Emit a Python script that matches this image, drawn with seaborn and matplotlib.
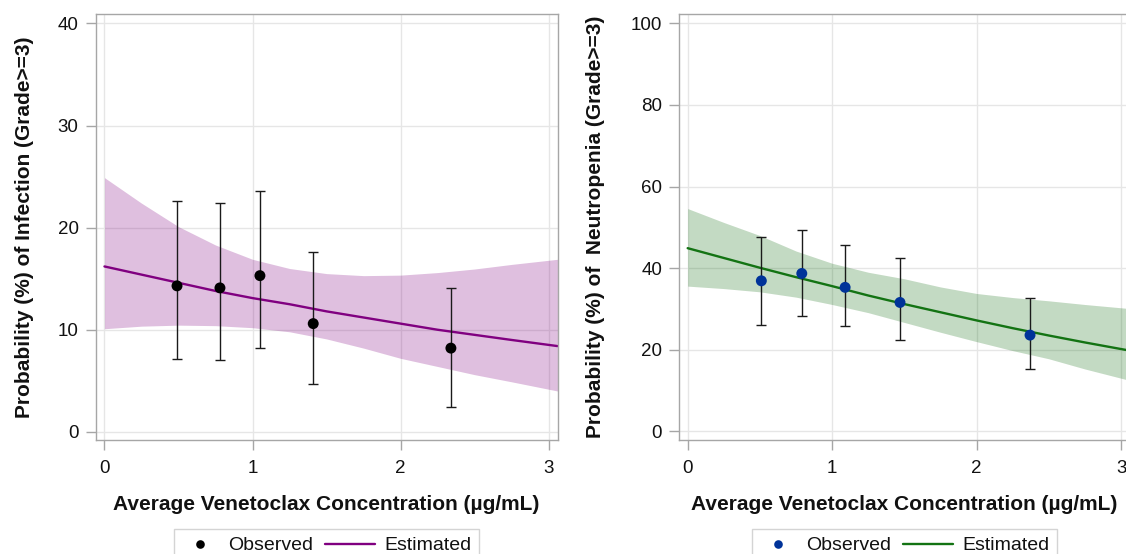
import numpy as np
import matplotlib
matplotlib.use("Agg")
import matplotlib.pyplot as plt
import seaborn as sns
from matplotlib.lines import Line2D
from matplotlib.legend_handler import HandlerLine2D

# Model curve grid (µg/mL)
curve_conc = [0.0, 0.25, 0.5, 0.75, 1.0, 1.25, 1.5, 1.75, 2.0, 2.25, 2.5, 2.75, 3.06]

# Infection (Grade>=3): estimated probability and 95% band
inf_est = [16.2, 15.4, 14.6, 13.8, 13.1, 12.5, 11.8, 11.2, 10.6, 10.0, 9.5, 9.0, 8.4]
inf_band_lo = [10.1, 10.35, 10.45, 10.4, 10.2, 9.8, 9.1, 8.2, 7.2, 6.4, 5.6, 4.9, 4.0]
inf_band_hi = [24.9, 22.4, 20.1, 18.3, 16.9, 16.0, 15.5, 15.3, 15.35, 15.6, 15.95, 16.4, 16.9]

# Infection: observed by concentration bin
inf_conc = [0.49, 0.78, 1.05, 1.41, 2.34]
inf_obs = [14.3, 14.1, 15.3, 10.6, 8.2]
inf_lo = [7.1, 7.0, 8.2, 4.7, 2.4]
inf_hi = [22.6, 22.4, 23.6, 17.6, 14.1]

# Neutropenia (Grade>=3): estimated probability and 95% band
neu_est = [44.9, 42.5, 40.1, 37.8, 35.6, 33.3, 31.2, 29.2, 27.2, 25.3, 23.5, 21.8, 19.8]
neu_band_lo = [35.6, 35.0, 34.2, 32.9, 31.1, 29.1, 26.7, 24.3, 22.0, 19.8, 17.8, 15.3, 12.5]
neu_band_hi = [54.6, 51.2, 48.0, 44.2, 41.2, 39.0, 37.4, 35.4, 33.8, 32.8, 32.0, 31.1, 30.1]

# Neutropenia: observed by concentration bin
neu_conc = [0.51, 0.79, 1.09, 1.47, 2.37]
neu_obs = [36.9, 38.7, 35.3, 31.6, 23.6]
neu_lo = [26.0, 28.3, 25.8, 22.4, 15.3]
neu_hi = [47.7, 49.3, 45.7, 42.4, 32.8]

x_ticks = [0, 1, 2, 3]
inf_yticks = [0, 10, 20, 30, 40]
neu_yticks = [0, 20, 40, 60, 80, 100]

x_label = "Average Venetoclax Concentration (µg/mL)"
inf_ylabel = "Probability (%) of Infection (Grade>=3)"
neu_ylabel = "Probability (%) of  Neutropenia (Grade>=3)"

sns.set_style("white")
plt.rcParams["font.family"] = ["Liberation Sans", "DejaVu Sans"]

FIG_W, FIG_H = 1126, 554
fig = plt.figure(figsize=(FIG_W / 100, FIG_H / 100), dpi=100)


class DotHandler(HandlerLine2D):
    """Places the legend marker near the right end of the handle box."""
    def get_xdata(self, legend, xdescent, ydescent, width, height, fontsize):
        xdata = np.array([-xdescent, -xdescent + width])
        return xdata, np.array([-xdescent + width - 4.1])


class LongLineHandler(HandlerLine2D):
    """Draws the legend line a little longer than the handle box."""
    def get_xdata(self, legend, xdescent, ydescent, width, height, fontsize):
        xdata = np.array([-xdescent - 9.4, -xdescent + width])
        return xdata, np.array([-xdescent + width / 2])


def draw_panel(ax, est, band_lo, band_hi, conc, obs, lo, hi,
               line_color, band_color, band_alpha, dot_color,
               ylim, yticks, ylabel, ylabel_x):
    ax_h_px = ax.get_position().height * FIG_H

    ax.set_axisbelow(True)
    ax.grid(True, color="#e6e6e6", lw=1)

    ax.fill_between(curve_conc, band_lo, band_hi, color=band_color,
                    alpha=band_alpha, lw=0, zorder=1)
    sns.lineplot(x=curve_conc, y=est, ax=ax, color=line_color, lw=1.7,
                 estimator=None, sort=False, zorder=2)

    obs_a = np.array(obs)
    yerr = [obs_a - np.array(lo), np.array(hi) - obs_a]
    ax.errorbar(conc, obs, yerr=yerr, fmt="none", ecolor="#1a1a1a",
                elinewidth=1, capsize=3.6, capthick=1, zorder=3)
    sns.scatterplot(x=conc, y=obs, ax=ax, color=dot_color, s=62,
                    edgecolor="none", linewidth=0, zorder=4, legend=False)

    ax.set_xlim(-0.06, 3.06)
    ax.set_ylim(*ylim)
    ax.set_xticks(x_ticks)
    ax.set_yticks(yticks)

    for sp in ax.spines.values():
        sp.set_visible(True)
        sp.set_color("#a6a6a6")
        sp.set_linewidth(1)

    ax.tick_params(axis="both", direction="out", length=7.2, width=1,
                   color="#a6a6a6", labelsize=13.5, labelcolor="#111111",
                   left=True, bottom=True, top=False, right=False)
    ax.tick_params(axis="x", pad=7.5)
    ax.tick_params(axis="y", pad=5)

    ax.set_xlabel(x_label, fontsize=15, fontweight="bold", color="#111111")
    ax.xaxis.set_label_coords(0.5, -65 / ax_h_px)
    ax.xaxis.label.set_va("center")

    ax.set_ylabel(ylabel, fontsize=15, fontweight="bold", color="#111111")
    ax.yaxis.set_label_coords(ylabel_x, 0.5)
    ax.yaxis.label.set_va("center")
    ax.yaxis.label.set_ha("center")

    obs_handle = Line2D([], [], ls="none", marker="o", markersize=6.2,
                        markerfacecolor=dot_color, markeredgecolor="none",
                        color=dot_color)
    est_handle = Line2D([], [], color=line_color, lw=1.7)
    leg = ax.legend([obs_handle, est_handle], ["Observed", "Estimated"],
                    handler_map={obs_handle: DotHandler(),
                                 est_handle: LongLineHandler()},
                    loc="upper center", bbox_to_anchor=(0.5, -89 / ax_h_px),
                    borderaxespad=0, ncol=2, fontsize=14, frameon=True,
                    fancybox=False, framealpha=1, edgecolor="#d4d4d4",
                    borderpad=0.4, handlelength=1.9, handletextpad=0.48,
                    columnspacing=1.27)
    leg.get_frame().set_linewidth(1)
    for t in leg.get_texts():
        t.set_color("#111111")


ax1 = fig.add_axes([95.6 / FIG_W, 114 / FIG_H, 461.9 / FIG_W, 425.7 / FIG_H])
ax2 = fig.add_axes([679 / FIG_W, 114 / FIG_H, 450.7 / FIG_W, 425.7 / FIG_H])

draw_panel(ax1, inf_est, inf_band_lo, inf_band_hi,
           inf_conc, inf_obs, inf_lo, inf_hi,
           line_color="#800080", band_color="#800080", band_alpha=0.25,
           dot_color="#000000", ylim=(-0.8, 40.9), yticks=inf_yticks,
           ylabel=inf_ylabel, ylabel_x=(24.5 - 95.6) / 461.9)

draw_panel(ax2, neu_est, neu_band_lo, neu_band_hi,
           neu_conc, neu_obs, neu_lo, neu_hi,
           line_color="#137313", band_color="#006400", band_alpha=0.235,
           dot_color="#003399", ylim=(-2.1, 102.2), yticks=neu_yticks,
           ylabel=neu_ylabel, ylabel_x=(595.7 - 679) / 450.7)

fig.savefig("out.png", dpi=100)
